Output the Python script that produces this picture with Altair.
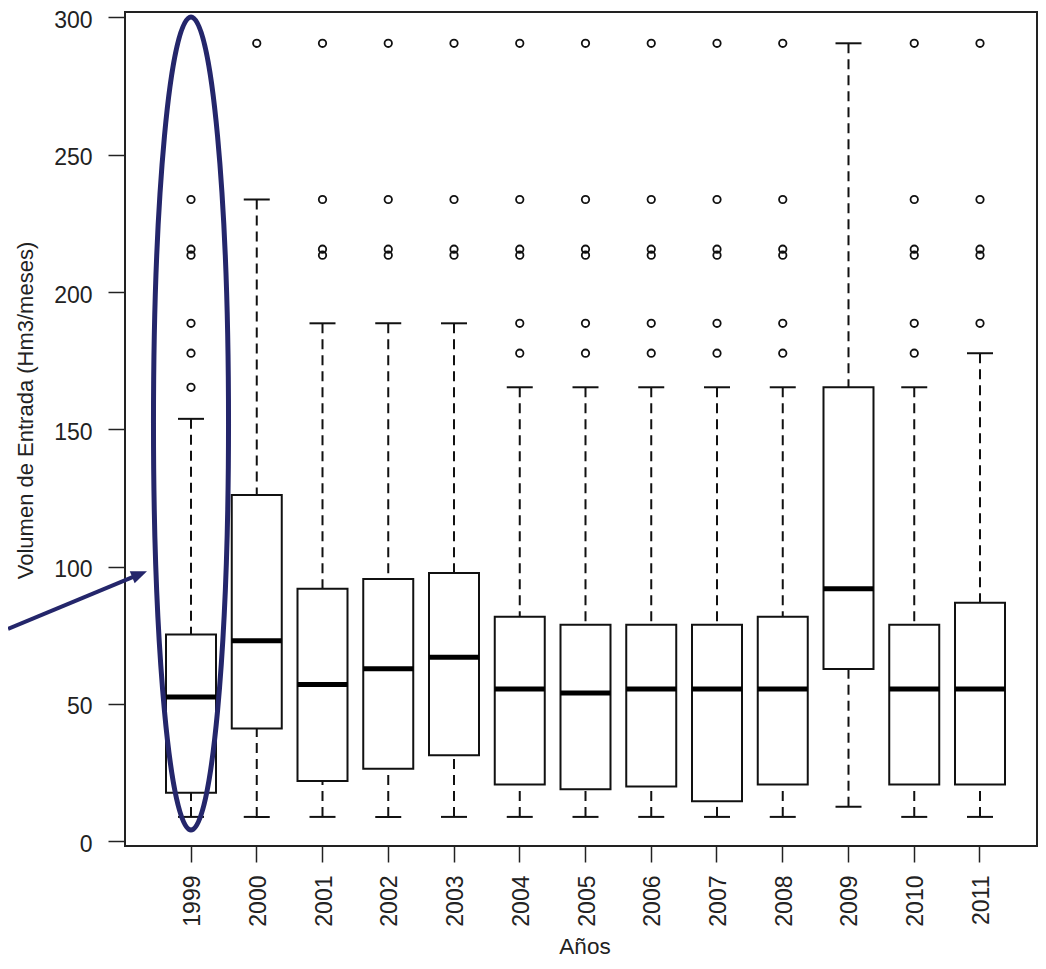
import altair as alt
import pandas as pd

# ---- data (Hm3/meses) ----
years = ["1999", "2000", "2001", "2002", "2003", "2004", "2005",
         "2006", "2007", "2008", "2009", "2010", "2011"]
lower_whisker = [8.8, 8.8, 8.8, 8.8, 8.8, 8.8, 8.8, 8.8, 8.8, 8.8, 12.5, 8.8, 8.8]
q1 = [17.6, 41.0, 21.9, 26.3, 31.3, 20.6, 18.9, 19.9, 14.5, 20.6, 62.7, 20.6, 20.6]
median = [52.5, 73.0, 57.0, 62.8, 67.0, 55.4, 53.9, 55.4, 55.4, 55.4, 91.9, 55.4, 55.4]
q3 = [75.2, 126.1, 91.9, 95.5, 97.6, 81.7, 78.8, 78.8, 78.8, 81.7, 165.3, 78.8, 86.8]
upper_whisker = [153.8, 233.7, 188.6, 188.6, 188.6, 165.3, 165.3, 165.3, 165.3, 165.3,
                 290.6, 165.3, 177.7]

outlier_years = (
    ["1999"] * 6
    + ["2000"]
    + ["2001"] * 4 + ["2002"] * 4 + ["2003"] * 4
    + ["2004"] * 6 + ["2005"] * 6 + ["2006"] * 6 + ["2007"] * 6 + ["2008"] * 6
    + ["2010"] * 6
    + ["2011"] * 5
)
outlier_values = (
    [233.7, 215.6, 213.4, 188.6, 177.7, 165.3]
    + [290.6]
    + [290.6, 233.7, 215.6, 213.4] * 3
    + [290.6, 233.7, 215.6, 213.4, 188.6, 177.7] * 5
    + [290.6, 233.7, 215.6, 213.4, 188.6, 177.7]
    + [290.6, 233.7, 215.6, 213.4, 188.6]
)

# annotation (ellipse around 1999 and arrow), in data units on the y axis
highlight_year = ["1999"]
highlight_center = [152.1]
arrow_start = [77.3]
arrow_end = [96.5]
arrow_head = [97.2]

box_df = pd.DataFrame({"year": years, "lo": lower_whisker, "q1": q1,
                       "med": median, "q3": q3, "hi": upper_whisker})
out_df = pd.DataFrame({"year": outlier_years, "v": outlier_values})
ell_df = pd.DataFrame({"year": highlight_year, "v": highlight_center})
arrow_df = pd.DataFrame({"v": arrow_start, "v2": arrow_end})
head_df = pd.DataFrame({"v": arrow_head})

INK = "#111111"
NAVY = "#24266b"
FONT = "Liberation Sans"

X = alt.X(
    "year:N",
    scale=alt.Scale(domain=years, paddingInner=0, paddingOuter=0.4354, align=0.5786),
    axis=alt.Axis(labelAngle=270, labelFontSize=23, labelPadding=13, tickSize=16,
                  labelOffset=2, title="Años", titleFontSize=22.5,
                  titleFontWeight="normal", titleX=459.5, titleY=107,
                  titleBaseline="alphabetic", titleAlign="center"),
)
yscale = alt.Scale(domain=[-1.8, 302], nice=False, zero=False)
yaxis = alt.Axis(values=[0, 50, 100, 150, 200, 250, 300], labelFontSize=23,
                 labelPadding=16, tickSize=17, labelOffset=3,
                 title="Volumen de Entrada (Hm3/meses)", titleFontSize=22,
                 titleFontWeight="normal", titleAngle=270, titleX=-100, titleY=398,
                 titleAlign="center", titleBaseline="middle")


def Y(field):
    return alt.Y(field, type="quantitative", scale=yscale, axis=yaxis)


base = alt.Chart(box_df)
dash = [10, 6]

whisk_lo = base.mark_rule(color=INK, strokeWidth=2, strokeDash=dash, opacity=1).encode(
    x=X, y=Y("lo"), y2="q1")
whisk_hi = base.mark_rule(color=INK, strokeWidth=2, strokeDash=dash, opacity=1).encode(
    x=X, y=Y("hi"), y2="q3")
cap_lo = base.mark_tick(color=INK, size=26, thickness=2, orient="horizontal",
                        opacity=1).encode(x=X, y=Y("lo"))
cap_hi = base.mark_tick(color=INK, size=26, thickness=2, orient="horizontal",
                        opacity=1).encode(x=X, y=Y("hi"))
boxes = base.mark_bar(size=50, fill="white", stroke=INK, strokeWidth=2,
                      opacity=1).encode(x=X, y=Y("q1"), y2="q3")
meds = base.mark_tick(color="#000000", size=50, thickness=5, orient="horizontal",
                      opacity=1).encode(x=X, y=Y("med"))
outs = alt.Chart(out_df).mark_point(shape="circle", size=55, filled=False, color=INK,
                                    strokeWidth=1.8, opacity=1).encode(x=X, y=Y("v"))

k = 0.5523
rx = 0.0923
ell_path = (f"M0,-1 C{k*rx:.4f},-1 {rx},{-k} {rx},0 "
            f"C{rx},{k} {k*rx:.4f},1 0,1 "
            f"C{-k*rx:.4f},1 {-rx},{k} {-rx},0 "
            f"C{-rx},{-k} {-k*rx:.4f},-1 0,-1 Z")
ellipse = alt.Chart(ell_df).mark_point(shape=ell_path, size=813 * 813, filled=False,
                                       stroke=NAVY, strokeWidth=5, opacity=1,
                                       dx=-3.5).encode(x=X, y=Y("v"))
arrow = alt.Chart(arrow_df).mark_rule(color=NAVY, strokeWidth=4, opacity=1).encode(
    x=alt.value(-117), x2=alt.value(10), y=Y("v"), y2="v2")
head = alt.Chart(head_df).mark_point(shape="M1,0L-1,-0.8L-1,0.8Z", size=256,
                                     angle=337.5, filled=True, fill=NAVY, opacity=1,
                                     strokeWidth=0).encode(x=alt.value(14.6), y=Y("v"))

chart = (
    alt.layer(whisk_lo, whisk_hi, cap_lo, cap_hi, boxes, meds, outs, ellipse, arrow, head)
    .properties(width=912, height=834,
                autosize=alt.AutoSizeParams(type="none"),
                padding={"left": 117, "top": 4, "right": 1, "bottom": 112})
    .configure_view(stroke="#222222", strokeWidth=2)
    .configure_axis(grid=False, domain=False, labelFont=FONT, titleFont=FONT,
                    labelColor="#222222", titleColor="#222222", tickColor="#222222",
                    tickWidth=1.5)
)

chart.save("out.html", embed_options={"renderer": "svg", "actions": False})
